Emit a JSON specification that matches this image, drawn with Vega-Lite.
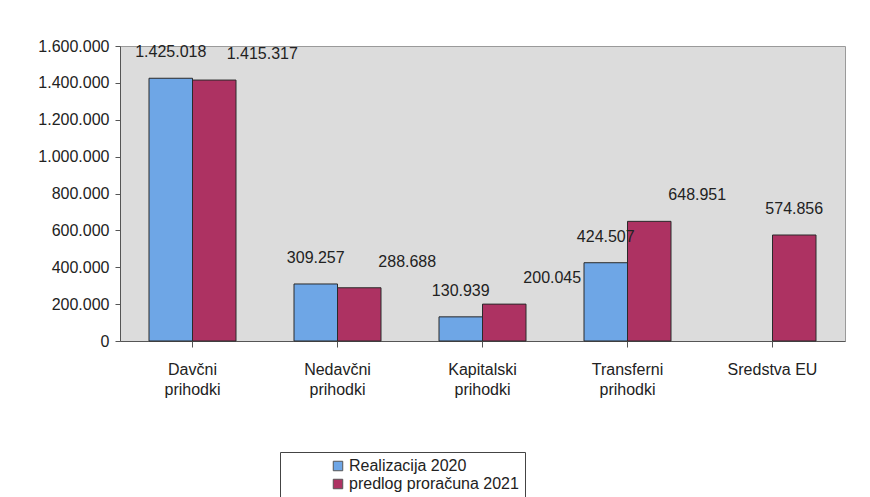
{
  "$schema": "https://vega.github.io/schema/vega-lite/v6.json",
  "autosize": {"type": "none"},
  "width": 725,
  "height": 295,
  "padding": {"left": 120, "top": 46, "right": 25, "bottom": 156},
  "background": "white",
  "config": {
    "locale": {"number": {"decimal": ",", "thousands": ".", "grouping": [3], "currency": ["", " €"]}},
    "font": "Liberation Sans",
    "view": {"fill": "#dcdcdc", "stroke": "#9a9a9a"}
  },
  "data": {
    "values": [
      {"cat": "Davčni prihodki", "series": "Realizacija 2020", "value": 1425018},
      {"cat": "Davčni prihodki", "series": "predlog proračuna 2021", "value": 1415317},
      {"cat": "Nedavčni prihodki", "series": "Realizacija 2020", "value": 309257},
      {"cat": "Nedavčni prihodki", "series": "predlog proračuna 2021", "value": 288688},
      {"cat": "Kapitalski prihodki", "series": "Realizacija 2020", "value": 130939},
      {"cat": "Kapitalski prihodki", "series": "predlog proračuna 2021", "value": 200045},
      {"cat": "Transferni prihodki", "series": "Realizacija 2020", "value": 424507},
      {"cat": "Transferni prihodki", "series": "predlog proračuna 2021", "value": 648951},
      {"cat": "Sredstva EU", "series": "Realizacija 2020", "value": 0},
      {"cat": "Sredstva EU", "series": "predlog proračuna 2021", "value": 574856}
    ]
  },
  "encoding": {
    "x": {
      "field": "cat", "type": "nominal", "sort": null,
      "scale": {"paddingInner": 0.4, "paddingOuter": 0.2},
      "axis": {
        "title": null, "labelAngle": 0, "labelFontSize": 16, "labelColor": "#222",
        "labelPadding": 14, "labelBaseline": "top", "labelLineHeight": 20,
        "labelExpr": "datum.label == 'Sredstva EU' ? datum.label : split(datum.label, ' ')",
        "domainColor": "#555", "tickColor": "#555", "tickSize": 6
      }
    },
    "xOffset": {"field": "series", "type": "nominal", "sort": ["Realizacija 2020", "predlog proračuna 2021"], "scale": {"domain": ["Realizacija 2020", "predlog proračuna 2021"]}},
    "y": {
      "field": "value", "type": "quantitative",
      "scale": {"domain": [0, 1600000]},
      "axis": {
        "title": null, "format": ",d", "values": [0, 200000, 400000, 600000, 800000, 1000000, 1200000, 1400000, 1600000],
        "labelOverlap": false,
        "labelFontSize": 16, "labelColor": "#222", "grid": false,
        "domainColor": "#555", "tickColor": "#555", "tickSize": 5, "labelPadding": 6
      }
    }
  },
  "layer": [
    {
      "transform": [{"filter": "datum.value > 0"}],
      "mark": {"type": "bar", "stroke": "#2a2a2a", "strokeWidth": 1},
      "encoding": {
        "color": {
          "field": "series", "type": "nominal",
          "sort": ["Realizacija 2020", "predlog proračuna 2021"],
          "scale": {"domain": ["Realizacija 2020", "predlog proračuna 2021"], "range": ["#6ea6e6", "#ad3262"]},
          "legend": {
            "title": null, "orient": "none", "legendX": 160, "legendY": 406,
            "direction": "vertical", "symbolType": "square", "symbolSize": 90,
            "symbolStrokeColor": "#555", "symbolStrokeWidth": 1, "symbolOffset": 44,
            "labelFontSize": 16, "labelColor": "#222", "labelLimit": 300,
            "strokeColor": "#444", "padding": 6, "fillColor": "white",
            "rowPadding": 2, "labelOffset": 3
          }
        }
      }
    },
    {
      "transform": [{"filter": "datum.value > 0 && datum.series == 'Realizacija 2020'"}],
      "mark": {"type": "text", "dy": -18, "dx": 0, "fontSize": 16, "color": "#222", "baseline": "bottom"},
      "encoding": {
        "text": {"field": "value", "type": "quantitative", "format": ",d"}
      }
    },
    {
      "transform": [{"filter": "datum.series == 'predlog proračuna 2021' && datum.cat != 'Sredstva EU'"}],
      "mark": {"type": "text", "dy": -18, "dx": 48, "fontSize": 16, "color": "#222", "baseline": "bottom"},
      "encoding": {
        "text": {"field": "value", "type": "quantitative", "format": ",d"}
      }
    },
    {
      "transform": [{"filter": "datum.series == 'predlog proračuna 2021' && datum.cat == 'Sredstva EU'"}],
      "mark": {"type": "text", "dy": -18, "dx": 0, "fontSize": 16, "color": "#222", "baseline": "bottom"},
      "encoding": {
        "text": {"field": "value", "type": "quantitative", "format": ",d"}
      }
    }
  ]
}
